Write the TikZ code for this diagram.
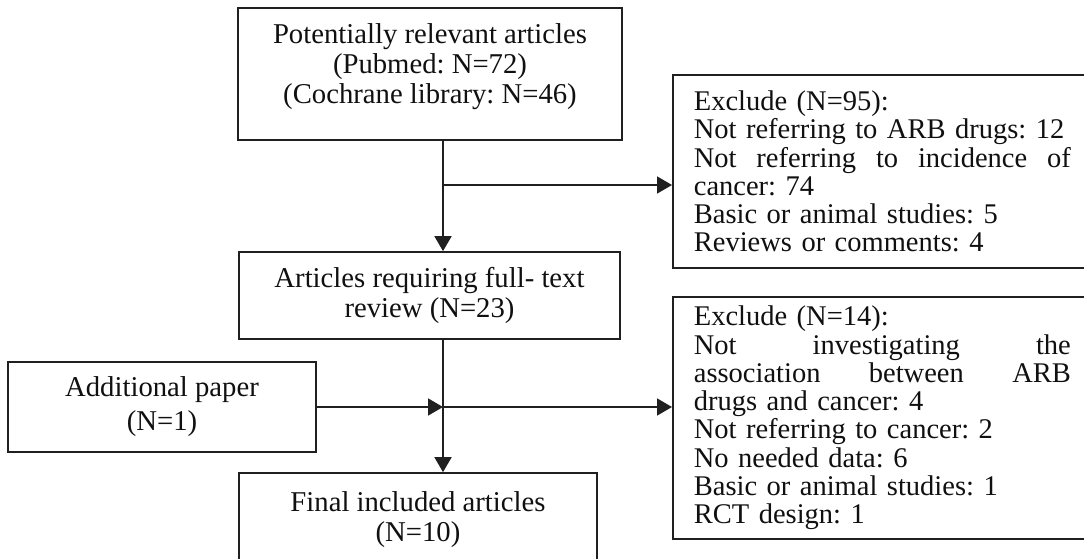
\documentclass[tikz,border=0pt]{standalone}
\usepackage{fontspec}
\setmainfont{Liberation Serif}
\usetikzlibrary{arrows.meta}
\frenchspacing
\definecolor{linecol}{HTML}{202020}
\definecolor{textcol}{HTML}{101010}
\begin{document}
\begin{tikzpicture}[x=1pt,y=-1pt,
  box/.style={draw=linecol, line width=1.7pt, rectangle, inner sep=0pt,
    align=center, text=textcol, font=\fontsize{28.7}{30}\selectfont},
  exbox/.style={draw=linecol, line width=1.7pt, rectangle, inner xsep=21pt,
    inner ysep=0pt, text width=377pt, align=left, anchor=west, text=textcol,
    font=\fontsize{28.5}{28.3}\selectfont},
  flow/.style={draw=linecol, line width=1.7pt, -{Triangle[length=15pt,width=17pt]}},
  link/.style={draw=linecol, line width=1.7pt}]
\useasboundingbox (0,0) rectangle (1084,559);
\clip (0,0) rectangle (1084,559);
\fill[white] (0,0) rectangle (1084,559);

% main column
\node[box, minimum width=384pt, minimum height=132pt, text depth=20pt] (b1) at (430,74)
  {Potentially relevant articles\\(Pubmed: N=72)\\(Cochrane library: N=46)};
\node[box, minimum width=381pt, minimum height=87pt] (b2) at (429.5,295.5)
  {Articles requiring full- text\\review (N=23)};
\node[box, minimum width=358pt, minimum height=94pt] (fin) at (418,520)
  {Final included articles\\(N=10)};

% side input
\node[box, minimum width=308pt, minimum height=90pt,
  font=\fontsize{28.7}{34}\selectfont] (add) at (162,407)
  {Additional paper\\(N=1)};

% exclusion boxes
\node[exbox, minimum height=193pt] (ex1) at (672,171.5)
  {Exclude (N=95):\\
   Not referring to ARB drugs: 12\\
   Not\hfill referring\hfill to\hfill incidence\hfill of\\
   cancer: 74\\
   Basic or animal studies: 5\\
   Reviews or comments: 4};
\node[exbox, minimum height=242pt] (ex2) at (672,418)
  {Exclude (N=14):\\
   Not\hfill investigating\hfill the\\
   association\hfill between\hfill ARB\\
   drugs and cancer: 4\\
   Not referring to cancer: 2\\
   No needed data: 6\\
   Basic or animal studies: 1\\
   RCT design: 1};

% junctions on the main flow line
\coordinate (j1) at (443,185);
\coordinate (j2) at (443,407);

% connectors
\draw[flow] (j1 |- b1.south) -- (j1 |- b2.north);
\draw[flow] (j1) -- (j1 -| ex1.west);
\draw[flow] (j2 |- b2.south) -- (j2 |- fin.north);
\draw[flow] (add.east |- j2) -- (j2);
\draw[flow] (j2) -- (j2 -| ex2.west);
\end{tikzpicture}
\end{document}
